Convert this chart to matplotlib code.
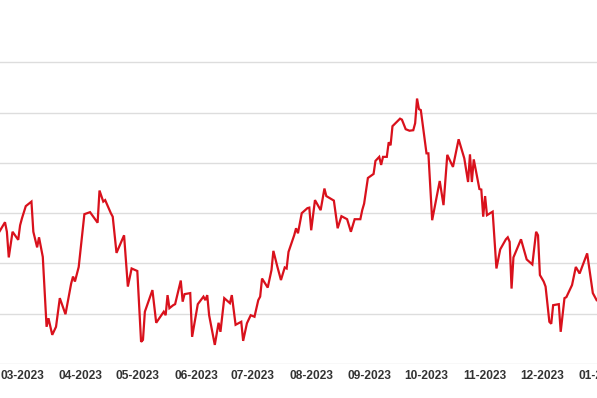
import matplotlib.pyplot as plt
import matplotlib.dates as mdates
import pandas as pd

plt.rcParams['font.family'] = ['Liberation Sans Narrow', 'Liberation Sans', 'DejaVu Sans']

dates = ['2023-02-17', '2023-02-20', '2023-02-21', '2023-02-22', '2023-02-24', '2023-02-27', '2023-02-28',
         '2023-03-01', '2023-03-03', '2023-03-06', '2023-03-07', '2023-03-09', '2023-03-10', '2023-03-12',
         '2023-03-14', '2023-03-15', '2023-03-17', '2023-03-19', '2023-03-21', '2023-03-24', '2023-03-27',
         '2023-03-28', '2023-03-29', '2023-03-31', '2023-04-03', '2023-04-06', '2023-04-10', '2023-04-11',
         '2023-04-13', '2023-04-14', '2023-04-17', '2023-04-18', '2023-04-20', '2023-04-24', '2023-04-26',
         '2023-04-28', '2023-05-01', '2023-05-03', '2023-05-04', '2023-05-05', '2023-05-09', '2023-05-11',
         '2023-05-15', '2023-05-16', '2023-05-17', '2023-05-18', '2023-05-20', '2023-05-21', '2023-05-24',
         '2023-05-25', '2023-05-26', '2023-05-29', '2023-05-30', '2023-06-02', '2023-06-05', '2023-06-06',
         '2023-06-07', '2023-06-08', '2023-06-11', '2023-06-13', '2023-06-14', '2023-06-16', '2023-06-19',
         '2023-06-20', '2023-06-22', '2023-06-25', '2023-06-26', '2023-06-28', '2023-06-30', '2023-07-02',
         '2023-07-04', '2023-07-05', '2023-07-06', '2023-07-09', '2023-07-11', '2023-07-12', '2023-07-14',
         '2023-07-16', '2023-07-18', '2023-07-19', '2023-07-20', '2023-07-23', '2023-07-24', '2023-07-25',
         '2023-07-27', '2023-07-30', '2023-07-31', '2023-08-01', '2023-08-03', '2023-08-06', '2023-08-08',
         '2023-08-09', '2023-08-13', '2023-08-15', '2023-08-17', '2023-08-20', '2023-08-22', '2023-08-24',
         '2023-08-27', '2023-08-28', '2023-08-29', '2023-08-31', '2023-09-03', '2023-09-04', '2023-09-06',
         '2023-09-07', '2023-09-08', '2023-09-10', '2023-09-11', '2023-09-12', '2023-09-13', '2023-09-17',
         '2023-09-18', '2023-09-20', '2023-09-22', '2023-09-24', '2023-09-25', '2023-09-26', '2023-09-27',
         '2023-09-28', '2023-10-01', '2023-10-02', '2023-10-04', '2023-10-08', '2023-10-10', '2023-10-12',
         '2023-10-15', '2023-10-18', '2023-10-21', '2023-10-23', '2023-10-24', '2023-10-25', '2023-10-26',
         '2023-10-29', '2023-10-30', '2023-10-31', '2023-11-01', '2023-11-02', '2023-11-05', '2023-11-07',
         '2023-11-09', '2023-11-12', '2023-11-13', '2023-11-14', '2023-11-15', '2023-11-16', '2023-11-20',
         '2023-11-23', '2023-11-26', '2023-11-28', '2023-11-29', '2023-11-30', '2023-12-02', '2023-12-03',
         '2023-12-05', '2023-12-06', '2023-12-07', '2023-12-10', '2023-12-11', '2023-12-13', '2023-12-14',
         '2023-12-17', '2023-12-19', '2023-12-21', '2023-12-25', '2023-12-28', '2023-12-30']

valeurs = [126.3, 128.2, 126.3, 121.2, 126.3, 124.7, 127.6,
           129.0, 131.4, 132.3, 126.3, 123.2, 125.2, 121.3,
           107.4, 109.1, 105.8, 107.4, 113.1, 109.9, 116.0,
           117.4, 116.4, 119.3, 129.8, 130.2, 128.1, 134.5,
           132.3, 132.6, 130.0, 129.3, 122.1, 125.6, 115.4,
           119.0, 118.5, 104.4, 104.8, 110.4, 114.7, 108.2,
           110.4, 109.7, 113.7, 111.1, 111.7, 111.9, 116.6,
           112.4, 113.9, 114.1, 105.4, 111.9, 113.4, 112.7,
           113.7, 109.7, 103.8, 108.2, 106.4, 113.1, 112.1,
           113.7, 107.8, 108.4, 104.6, 108.1, 109.7, 109.4,
           112.7, 113.4, 117.0, 115.2, 118.7, 122.5, 119.5,
           116.7, 119.2, 119.0, 122.3, 125.6, 127.0, 126.0,
           130.0, 131.0, 131.1, 126.6, 132.6, 130.6, 134.9,
           133.4, 132.5, 127.0, 129.4, 128.8, 126.3, 128.8,
           128.8, 130.6, 131.9, 137.0, 137.8, 140.4, 141.2,
           139.6, 141.2, 141.2, 144.1, 143.5, 147.3, 148.8,
           148.6, 146.7, 146.4, 146.5, 147.9, 152.8, 150.7,
           150.5, 141.9, 141.9, 128.6, 136.4, 131.6, 141.6,
           139.2, 144.7, 140.9, 136.2, 141.7, 136.2, 140.7,
           134.8, 134.7, 129.3, 133.4, 129.6, 130.3, 119.0,
           122.8, 124.8, 125.2, 124.3, 115.0, 121.2, 124.8,
           120.8, 119.8, 126.3, 125.6, 117.7, 116.4, 115.4,
           108.4, 108.0, 111.7, 111.9, 106.4, 113.1, 113.3,
           115.7, 119.3, 118.0, 122.0, 114.1, 112.7]

grille = [100, 110, 120, 130, 140, 150, 160]

df = pd.DataFrame({'date': pd.to_datetime(dates), 'valeur': valeurs})

fig = plt.figure(figsize=(5.97, 3.98), dpi=100)
# axes deliberately wider than the figure: the source image is a crop
ax = fig.add_axes([0, 34/398, 1.05, 364/398])
ax.plot(df['date'], df['valeur'], color='#d9111c', lw=1.6, solid_joinstyle='miter')

debut = pd.Timestamp('2023-03-01')
ax.set_xlim(debut - pd.Timedelta(days=11.64), debut + pd.Timedelta(days=320))
ax.set_ylim(100, 172.4)
ax.set_yticks(grille)
ax.yaxis.grid(True, color='#dddddd', lw=1)
ax.set_axisbelow(True)
ax.tick_params(axis='y', left=False, labelleft=False)

ax.xaxis.set_major_locator(mdates.MonthLocator())
ax.xaxis.set_major_formatter(mdates.DateFormatter('%m-%Y'))
ax.tick_params(axis='x', length=0, pad=4, labelsize=8.6, labelcolor='#333333')
for lab in ax.get_xticklabels():
    lab.set_fontweight('bold')

for s in ax.spines.values():
    s.set_visible(False)

plt.savefig('out.png', dpi=100)
